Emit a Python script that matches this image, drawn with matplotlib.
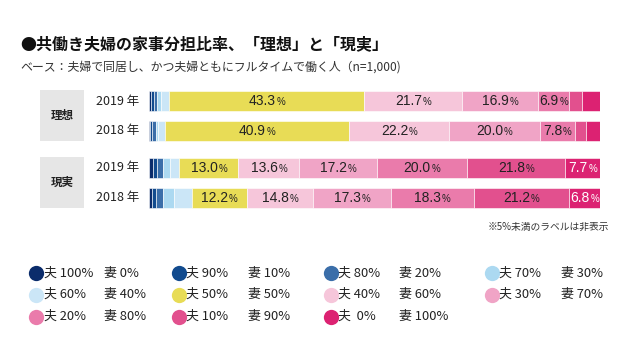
import numpy as np
import matplotlib
matplotlib.use("Agg")
import matplotlib.pyplot as plt
from matplotlib.patches import Rectangle
from matplotlib.offsetbox import TextArea, HPacker, AnnotationBbox

plt.rcParams['font.family'] = ['Noto Sans CJK JP', 'DejaVu Sans']

# share of housework done by the husband, one segment per level
shares = ['100%', '90%', '80%', '70%', '60%', '50%', '40%', '30%', '20%', '10%', '0%']
wife = ['0%', '10%', '20%', '30%', '40%', '50%', '60%', '70%', '80%', '90%', '100%']
colors = ['#0b2c6b', '#124b8e', '#3b6ea9', '#acd9f1', '#cbe6f7', '#e8dc56',
          '#f6c6da', '#f0a4c6', '#ea7bab', '#e2508e', '#dc2272']

rows = ['2019 年', '2018 年', '2019 年', '2018 年']
groups = ['理想', '現実']
values = [
    [0.4, 0.6, 0.8, 0.9, 1.7, 43.3, 21.7, 16.9, 6.9, 2.7, 4.1],   # 理想 2019
    [0.2, 0.3, 1.0, 0.5, 1.5, 40.9, 22.2, 20.0, 7.8, 2.6, 3.0],   # 理想 2018
    [0.8, 0.9, 1.4, 1.4, 2.2, 13.0, 13.6, 17.2, 20.0, 21.8, 7.7], # 現実 2019
    [0.7, 0.8, 1.5, 2.5, 3.9, 12.2, 14.8, 17.3, 18.3, 21.2, 6.8], # 現実 2018
]
ypos = [0, 1, 2.25, 3.25]

W, H = 640, 360
fig = plt.figure(figsize=(6.4, 3.6), dpi=100)

# overlay in pixel coords for texts and decorations
bg = fig.add_axes([0, 0, 1, 1])
bg.set_xlim(0, W)
bg.set_ylim(H, 0)
bg.axis('off')

bg.text(20, 44, '●共働き夫婦の家事分担比率、「理想」と「現実」', fontsize=11.5,
        fontweight='bold', va='center', color='#111')
bg.text(20, 67, 'ベース：夫婦で同居し、かつ夫婦ともにフルタイムで働く人（n=1,000)',
        fontsize=8.6, va='center', color='#333')

# group boxes
for label, top, bot in [(groups[0], 90, 141), (groups[1], 157, 208)]:
    bg.add_patch(Rectangle((40, top), 44, bot - top, color='#e6e6e6', lw=0))
    bg.text(62, (top + bot) / 2, label, fontsize=8.3, fontweight='bold',
            ha='center', va='center', color='#222')

bg.text(609, 227, '※5%未満のラベルは非表示', fontsize=7, ha='right',
        va='center', color='#333')

# legend
leg_cols = [(36, 44, 104), (179, 186, 248), (331, 338, 399), (492, 499, 561)]
leg_rows = [273, 294.5, 316.5]
for i, (s, w) in enumerate(zip(shares, wife)):
    cx, hx, wx = leg_cols[i % 4]
    yy = leg_rows[i // 4]
    bg.plot(cx, yy, 'o', ms=11, color=colors[i], mec='none')
    hs = '夫  ' + s if s == '0%' else '夫 ' + s
    bg.text(hx, yy, hs, fontsize=9.3, va='center', color='#222')
    bg.text(wx, yy, '妻 ' + w, fontsize=9.3, va='center', color='#222')

# bars
bar_top, bar_bot = 86.2, 212.5
ax = fig.add_axes([149.3 / W, 1 - bar_bot / H, 450.7 / W, (bar_bot - bar_top) / H])
ax.set_xlim(0, 100)
ax.set_ylim(3.75, -0.5)
ax.axis('off')

for r, (y, vals) in enumerate(zip(ypos, values)):
    left = 0
    for k, v in enumerate(vals):
        ax.barh(y, v, left=left, height=0.673, color=colors[k],
                edgecolor='white', linewidth=0.4)
        if v >= 5:
            tc = 'white' if k == len(vals) - 1 else '#222'
            num = TextArea(f'{v:.1f}', textprops=dict(fontsize=10, color=tc,
                                                       family='Liberation Sans'))
            pct = TextArea('%', textprops=dict(fontsize=7, color=tc,
                                                family='Liberation Sans'))
            box = HPacker(children=[num, pct], align='baseline', pad=0, sep=0.5)
            ab = AnnotationBbox(box, (left + v / 2, y), xycoords='data',
                                frameon=False, box_alignment=(0.5, 0.5), pad=0)
            ax.add_artist(ab)
        left += v
    bg.text(96, (bar_top + (y + 0.5) * 29.72), rows[r], fontsize=9,
            va='center', color='#222')

fig.savefig('out.png', dpi=100)
